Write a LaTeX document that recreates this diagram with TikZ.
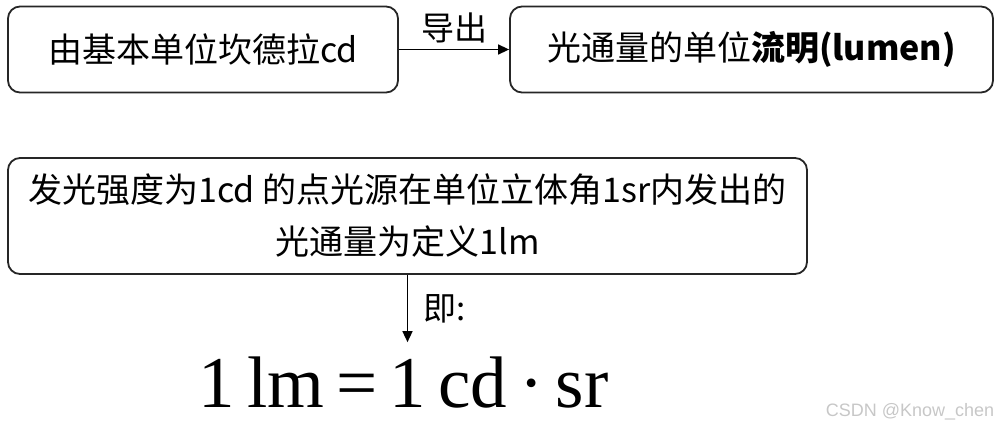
\documentclass[tikz,border=0pt]{standalone}
\usepackage{fontspec}
\setmainfont{Noto Sans CJK SC}
\newfontfamily\formulafont{Liberation Serif}
\newfontfamily\markfont{Liberation Sans}
\usetikzlibrary{arrows.meta,positioning}
\tikzset{
  unitbox/.style={draw=black!85,line width=1.8pt,rounded corners=12pt,minimum height=86pt,align=center,font=\fontsize{34}{52}\selectfont},
  link/.style={line width=1.5pt,-{Triangle[length=11pt,width=10pt]}},
  tag/.style={font=\fontsize{33}{38}\selectfont}
}

\begin{document}
\begin{tikzpicture}[x=1pt,y=-1pt]
  \useasboundingbox (0,0) rectangle (1001,429);
  \node[unitbox,minimum width=390pt] (base) at (203,49.5) {由基本单位坎德拉cd};
  \node[unitbox,minimum width=483pt] (flux) at (751.5,49.5) {光通量的单位\textbf{流明(lumen)}};
  \node[unitbox,minimum width=799pt,minimum height=116pt] (define) at (407.5,216) {发光强度为1cd 的点光源在单位立体角1sr内发出的\\光通量为定义1lm};
  \node[font=\formulafont\fontsize{73}{80}\selectfont,inner sep=14pt,anchor=base] (formula) at (403.5,407) {1\,lm\,=\,1\,cd\,·\,sr};
  \node[font=\markfont\fontsize{18}{20}\selectfont,text=black!22] (mark) at (910,412) {CSDN @Know\_chen};
  \draw[link] (base) -- node[tag,above=2pt] {导出} (flux);
  \draw[link] (define.south) -- node[tag,right=12pt] {即:} (define.south |- formula.north);
\end{tikzpicture}
\end{document}
